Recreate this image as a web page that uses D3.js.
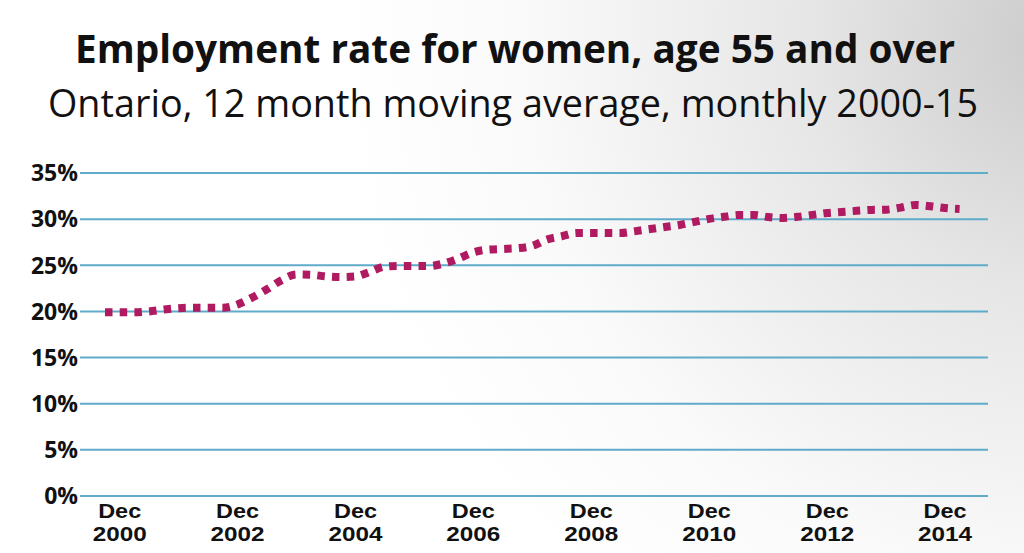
<!DOCTYPE html>
<html>
<head>
<meta charset="utf-8">
<script src="https://cdn.jsdelivr.net/npm/d3@7"></script>
<style>
  html, body { margin: 0; padding: 0; background: #fff; }
  svg { display: block; }
</style>
</head>
<body>
<div id="chart"></div>
<script>
// quarterly readings, Sep 2000 .. Mar 2015 (percent)
var startMonth = new Date(2000, 8, 1);
var endMonth = new Date(2015, 2, 1);
var rate = [
  19.9, 19.9, 19.9, 20.0, 20.2, 20.35, 20.4, 20.4, 20.4, 20.75,
  21.5, 22.4, 23.4, 24.0, 23.97, 23.8, 23.73, 23.8, 24.3, 24.85,
  24.93, 24.93, 24.93, 25.2, 25.75, 26.4, 26.7, 26.77, 26.85, 27.1,
  27.8, 28.15, 28.5, 28.5, 28.5, 28.5, 28.7, 28.93, 29.15, 29.37,
  29.7, 30.03, 30.25, 30.45, 30.45, 30.23, 30.13, 30.25, 30.46, 30.67,
  30.78, 30.9, 31.0, 31.03, 31.25, 31.53, 31.4, 31.2, 31.1
];
var yTicks = [0, 5, 10, 15, 20, 25, 30, 35];
var xTickYears = [2000, 2002, 2004, 2006, 2008, 2010, 2012, 2014];
var title = "Employment rate for women, age 55 and over";
var subtitle = "Ontario, 12 month moving average, monthly 2000-15";

var width = 1024, height = 553;

var months = d3.timeMonth.range(startMonth, d3.timeMonth.offset(endMonth, 1), 3);
var data = months.map(function(d, i) { return { date: d, value: rate[i] }; });

var svg = d3.select("#chart").append("svg")
  .attr("width", width)
  .attr("height", height);

var defs = svg.append("defs");
var grad = defs.append("radialGradient")
  .attr("id", "bg")
  .attr("gradientUnits", "userSpaceOnUse")
  .attr("cx", 1060).attr("cy", 40).attr("r", 720);
grad.append("stop").attr("offset", "0").attr("stop-color", "#cbcbcb");
grad.append("stop").attr("offset", "0.35").attr("stop-color", "#e6e6e6");
grad.append("stop").attr("offset", "0.75").attr("stop-color", "#fafafa");
grad.append("stop").attr("offset", "1").attr("stop-color", "#ffffff");

svg.append("rect")
  .attr("width", width).attr("height", height)
  .attr("fill", "url(#bg)");

var x = d3.scaleTime()
  .domain([startMonth, endMonth])
  .range([105, 959.6]);

var y = d3.scaleLinear()
  .domain([0, 35])
  .range([496, 173]);

// titles
svg.append("text")
  .attr("x", 515).attr("y", 63)
  .attr("text-anchor", "middle")
  .attr("font-family", "'Open Sans', sans-serif")
  .attr("font-weight", "bold")
  .attr("font-size", 39)
  .attr("textLength", 880)
  .attr("lengthAdjust", "spacingAndGlyphs")
  .attr("fill", "#111")
  .text(title);

svg.append("text")
  .attr("x", 513).attr("y", 117)
  .attr("text-anchor", "middle")
  .attr("font-family", "'Open Sans', sans-serif")
  .attr("font-weight", 400)
  .attr("font-size", 39)
  .attr("textLength", 930)
  .attr("lengthAdjust", "spacingAndGlyphs")
  .attr("fill", "#111")
  .text(subtitle);

// gridlines
svg.append("g").selectAll("line")
  .data(yTicks)
  .enter().append("line")
  .attr("x1", 80).attr("x2", 988)
  .attr("y1", function(d) { return y(d); })
  .attr("y2", function(d) { return y(d); })
  .attr("stroke", "#5fabc9")
  .attr("stroke-width", 2);

svg.append("g").selectAll("text")
  .data(yTicks)
  .enter().append("text")
  .attr("x", 78)
  .attr("y", function(d) { return y(d); })
  .attr("dy", "0.36em")
  .attr("text-anchor", "end")
  .attr("font-family", "'Open Sans', sans-serif")
  .attr("font-weight", "bold")
  .attr("font-size", 23)
  .attr("fill", "#111")
  .text(function(d) { return d + "%"; });

// x labels, two lines each
var xl = svg.append("g").selectAll("g")
  .data(xTickYears)
  .enter().append("g")
  .attr("font-family", "'Liberation Sans', Arial, sans-serif")
  .attr("font-weight", "bold")
  .attr("font-size", 20)
  .attr("fill", "#111")
  .attr("text-anchor", "middle");
xl.append("text")
  .attr("x", function(d) { return x(new Date(d, 11, 1)); })
  .attr("y", 518)
  .attr("textLength", 43)
  .attr("lengthAdjust", "spacingAndGlyphs")
  .text("Dec");
xl.append("text")
  .attr("x", function(d) { return x(new Date(d, 11, 1)); })
  .attr("y", 541)
  .attr("textLength", 54)
  .attr("lengthAdjust", "spacingAndGlyphs")
  .text(function(d) { return d; });

// line
var line = d3.line()
  .x(function(d) { return x(d.date); })
  .y(function(d) { return y(d.value); })
  .curve(d3.curveMonotoneX);

svg.append("path")
  .datum(data)
  .attr("d", line)
  .attr("fill", "none")
  .attr("stroke", "#b01a60")
  .attr("stroke-width", 8)
  .attr("stroke-dasharray", "7.5,7.2");
</script>
</body>
</html>
